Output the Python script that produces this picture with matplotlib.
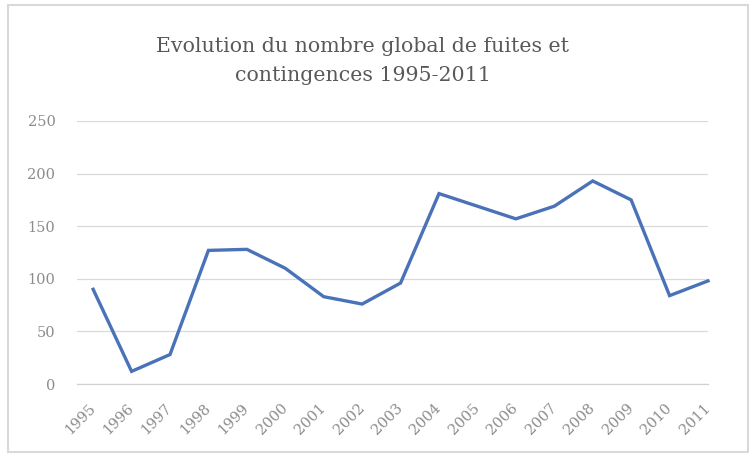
import matplotlib
matplotlib.use("Agg")
import matplotlib.pyplot as plt
from matplotlib.patches import Rectangle
from matplotlib.transforms import ScaledTranslation

years = ["1995", "1996", "1997", "1998", "1999", "2000", "2001", "2002", "2003",
         "2004", "2005", "2006", "2007", "2008", "2009", "2010", "2011"]
incidents = [90, 12, 28, 127, 128, 110, 83, 76, 96, 181, 169, 157, 169, 193, 175, 84, 98]
y_ticks = [0, 50, 100, 150, 200, 250]
title = "Evolution du nombre global de fuites et\ncontingences 1995-2011"

W, H, DPI = 756, 459, 100
fig = plt.figure(figsize=(W / DPI, H / DPI), dpi=DPI)
fig.patch.set_facecolor("white")

# light chart-area border
fig.add_artist(Rectangle((8 / W, 1 - 452 / H), (748 - 8) / W, (452 - 5) / H,
                         transform=fig.transFigure, fill=False,
                         edgecolor="#d9d9d9", linewidth=1.5))

left, right = 77 / W, 708 / W
top, bottom = 1 - 121 / H, 1 - 384 / H
ax = fig.add_axes([left, bottom, right - left, top - bottom])

x = list(range(len(years)))
ax.plot(x, incidents, color="#4a72b8", linewidth=2.4, solid_joinstyle="miter",
        clip_on=False, zorder=3)

ax.set_xlim(-0.42, 15.95)
ax.set_ylim(0, 250)
ax.set_yticks(y_ticks)
ax.set_yticklabels([str(v) for v in y_ticks])
ax.set_xticks(x)
ax.set_xticklabels(years, rotation=45, ha="right", va="top",
                   rotation_mode="anchor")

ax.grid(axis="y", color="#d9d9d9", linewidth=0.9)
ax.set_axisbelow(True)
for s in ["left", "right", "top"]:
    ax.spines[s].set_visible(False)
ax.spines["bottom"].set_color("#d0d0d0")
ax.spines["bottom"].set_linewidth(0.9)

ax.tick_params(axis="both", length=0, colors="#8c8c8c", labelsize=10.5)
ax.tick_params(axis="y", pad=15.5)
ax.tick_params(axis="x", pad=12)
shift = ScaledTranslation(-5 / DPI, 0, fig.dpi_scale_trans)
for lbl in ax.get_xticklabels():
    lbl.set_transform(lbl.get_transform() + shift)
for lbl in ax.get_xticklabels() + ax.get_yticklabels():
    lbl.set_fontfamily("DejaVu Serif")
    lbl.set_color("#8c8c8c")

fig.text(363 / W, 1 - 61 / H, title, ha="center", va="center",
         fontsize=14.8, color="#595959", family="DejaVu Serif",
         linespacing=1.7)

fig.savefig("out.png", dpi=DPI, facecolor="white")
